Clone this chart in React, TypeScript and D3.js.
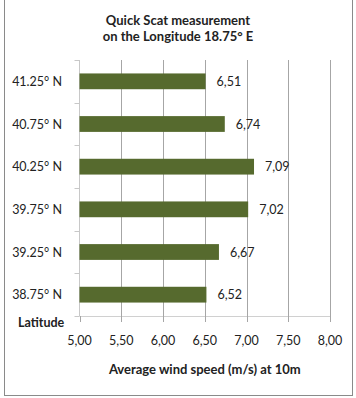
import React from "react";
import * as d3 from "d3";

const categories = ["41.25° N", "40.75° N", "40.25° N", "39.75° N", "39.25° N", "38.75° N"];
const values = [6.51, 6.74, 7.09, 7.02, 6.67, 6.52];
const xTicks = [5.0, 5.5, 6.0, 6.5, 7.0, 7.5, 8.0];
const titleLines = ["Quick Scat measurement", "on the Longitude 18.75° E"];
const xTitle = "Average wind speed (m/s) at 10m";
const yTitle = "Latitude";

const W = 356;
const H = 398;
const plot = { left: 79.5, right: 330, top: 60, bottom: 316 };
const font = "Lato, 'Open Sans', sans-serif";
const fmt = (v: number) => v.toFixed(2).replace(".", ",");

export default function App() {
  const x = d3.scaleLinear().domain([5, 8]).range([plot.left, plot.right]);
  const y = d3.scaleBand<string>().domain(categories).range([plot.top, plot.bottom]).paddingInner(0.63).paddingOuter(0.315);
  const bandStep = (plot.bottom - plot.top) / categories.length;
  return (
    <svg width={W} height={H} style={{ position: "absolute", left: 0, top: 0 }} fontFamily={font}>
      <rect x={0} y={0} width={W} height={H} fill="#fff" />
      <rect x={4.5} y={-2} width={348} height={397.5} fill="none" stroke="#8a8a8a" strokeWidth={1} />
      {titleLines.map((t, i) => (
        <text key={t} x={178} y={25 + i * 16} textAnchor="middle" fontSize={13} fontWeight="bold" fill="#222">{t}</text>
      ))}
      {/* gridlines */}
      {xTicks.slice(1).map((t) => (
        <line key={"g" + t} x1={Math.round(x(t)) + 0.5} x2={Math.round(x(t)) + 0.5} y1={plot.top} y2={plot.bottom} stroke="#a6a6a6" strokeWidth={1} />
      ))}
      {/* x axis line and ticks */}
      <line x1={plot.left} x2={plot.right} y1={plot.bottom + 0.5} y2={plot.bottom + 0.5} stroke="#d0d0d0" />
      {xTicks.map((t) => (
        <line key={"xt" + t} x1={Math.round(x(t)) + 0.5} x2={Math.round(x(t)) + 0.5} y1={plot.bottom} y2={plot.bottom + 6} stroke="#a6a6a6" />
      ))}
      {/* y axis line and ticks */}
      <line x1={plot.left} x2={plot.left} y1={plot.top} y2={plot.bottom} stroke="#c8c8c8" />
      {d3.range(categories.length + 1).map((i) => (
        <line key={"yt" + i} x1={plot.left - 5} x2={plot.left} y1={Math.round(plot.top + i * bandStep) + 0.5} y2={Math.round(plot.top + i * bandStep) + 0.5} stroke="#c8c8c8" />
      ))}
      {/* bars */}
      {categories.map((c, i) => (
        <g key={c}>
          <rect x={x(5)} y={y(c)} width={x(values[i]) - x(5)} height={y.bandwidth()} fill="#566a2e" />
          <text x={x(values[i]) + 11} y={(y(c) as number) + y.bandwidth() / 2 + 4.5} fontSize={12.5} fill="#222">{fmt(values[i])}</text>
          <text x={62} y={(y(c) as number) + y.bandwidth() / 2 + 4.5} textAnchor="end" fontSize={12.5} fill="#222">{c}</text>
        </g>
      ))}
      {xTicks.map((t) => (
        <text key={"xl" + t} x={x(t)} y={345} textAnchor="middle" fontSize={12.5} fill="#222">{fmt(t)}</text>
      ))}
      <text x={18} y={327} fontSize={12.5} fontWeight="bold" fill="#222">{yTitle}</text>
      <text x={(plot.left + plot.right) / 2} y={374} textAnchor="middle" fontSize={13} fontWeight="bold" fill="#222">{xTitle}</text>
    </svg>
  );
}
